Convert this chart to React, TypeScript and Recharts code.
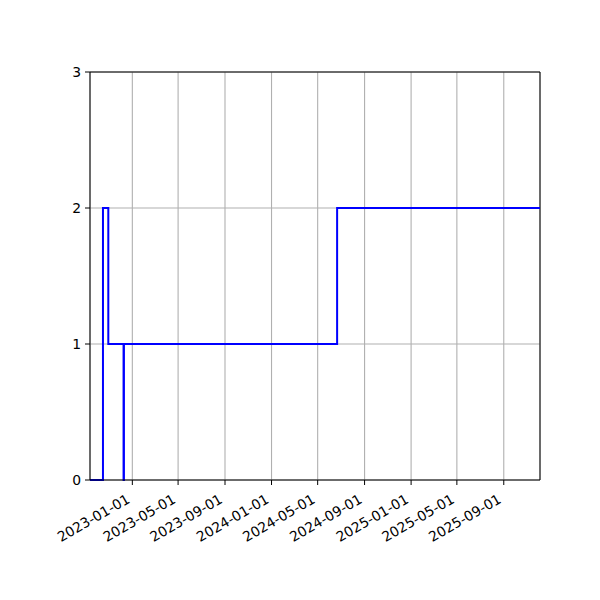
import { LineChart, Line, XAxis, YAxis, CartesianGrid, ReferenceLine } from 'recharts'

// dates where the count changes (step-post), and the count from that date on
const changeDates = ['2022-09-12', '2022-10-16', '2022-10-30', '2022-12-09', '2022-12-10', '2024-06-21', '2025-12-05']
const counts = [0, 2, 1, 0, 1, 2, 2]

const xTickLabels = ['2023-01-01', '2023-05-01', '2023-09-01', '2024-01-01', '2024-05-01', '2024-09-01', '2025-01-01', '2025-05-01', '2025-09-01']
const yTicks = [0, 1, 2, 3]

const font = 'DejaVu Sans, sans-serif'

const toTime = (s: string) => Date.parse(s + 'T00:00:00Z')

const data = changeDates.map((d, i) => ({ t: toTime(d), count: counts[i] }))
const xTicks = xTickLabels.map(toTime)
const xStart = data[0].t
const xEnd = data[data.length - 1].t

const DateTick = (props: any) => {
    const { x, y, payload } = props
    const label = new Date(payload.value).toISOString().slice(0, 10)
    return (
        <text
            x={0}
            y={0}
            textAnchor="end"
            fontSize={13.9}
            fontFamily={font}
            fill="#000"
            transform={`translate(${x - 1.5},${y + 15}) rotate(-30)`}
        >
            {label}
        </text>
    )
}

export default function App() {
    return (
        <div style={{ width: 600, height: 600 }}>
            <style>{'body{margin:0}'}</style>
            <LineChart width={600} height={600} data={data} margin={{ top: 72, right: 60, bottom: 0, left: 0 }}>
                <CartesianGrid stroke="#b0b0b0" strokeWidth={1.1} />
                <XAxis
                    dataKey="t"
                    type="number"
                    domain={[xStart, xEnd]}
                    allowDataOverflow
                    ticks={xTicks}
                    interval={0}
                    height={120}
                    stroke="#000"
                    tickSize={5}
                    tick={<DateTick />}
                />
                <YAxis
                    type="number"
                    domain={[0, 3]}
                    ticks={yTicks}
                    width={90}
                    stroke="#000"
                    tickSize={5}
                    tickMargin={4}
                    tick={{ fill: '#000', fontSize: 13.9, fontFamily: font }}
                />
                <ReferenceLine y={3} stroke="#000" />
                <ReferenceLine x={xEnd} stroke="#000" />
                <Line
                    type="stepAfter"
                    dataKey="count"
                    stroke="#0000ff"
                    strokeWidth={2}
                    dot={false}
                    isAnimationActive={false}
                />
            </LineChart>
        </div>
    )
}
